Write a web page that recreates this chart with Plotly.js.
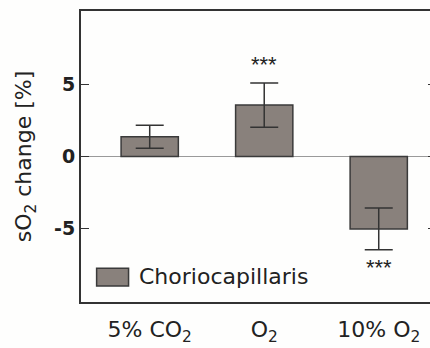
<!DOCTYPE html>
<html>
<head>
<meta charset="utf-8">
<script src="https://cdn.plot.ly/plotly-3.0.1.min.js"></script>
<style>
html, body { margin: 0; padding: 0; overflow: hidden; background: #fefefd; }
#chart { width: 440px; height: 348px; }
</style>
</head>
<body>
<div id="chart"></div>
<script>
const categories = ["5% CO<sub>2</sub>", "O<sub>2</sub>", "10% O<sub>2</sub>"];
const values = [1.37, 3.57, -5.03];
const errors = [0.80, 1.54, 1.45];
const significance = ["", "***", "***"];
const seriesName = "Choriocapillaris";
const yTickVals = [-5, 0, 5];
const yTickText = ["-5", "0", "5"];

const xIdx = categories.map((c, i) => i);

const trace = {
  type: "bar",
  x: xIdx,
  y: values,
  name: seriesName,
  width: 0.5,
  marker: { color: "#89817c", line: { color: "#3a3a3a", width: 1.5 } },
  error_y: { type: "data", array: errors, visible: true, color: "#333", thickness: 1.5, width: 14 },
  showlegend: false,
  hoverinfo: "skip"
};

const annotations = [];
significance.forEach((s, i) => {
  if (!s) return;
  const up = values[i] >= 0;
  annotations.push({
    x: xIdx[i], xref: "x",
    y: up ? values[i] + errors[i] + 1.3 : values[i] - errors[i] - 1.25, yref: "y",
    text: s, showarrow: false, yanchor: "middle",
    font: { family: "Liberation Sans", size: 22, color: "#222" }
  });
});
// legend label
annotations.push({
  x: 0.157, xref: "paper", y: 0.086, yref: "paper",
  xanchor: "left", yanchor: "middle", showarrow: false,
  text: seriesName,
  font: { family: "DejaVu Sans", size: 22, color: "#222" }
});

const layout = {
  width: 440, height: 348,
  margin: { l: 81, r: 4, t: 11, b: 46 },
  paper_bgcolor: "#fefefd",
  plot_bgcolor: "#fefefd",
  font: { family: "DejaVu Sans", color: "#222", size: 16 },
  xaxis: {
    range: [-0.6, 2.5],
    tickvals: xIdx, ticktext: categories,
    ticks: "", showgrid: false, zeroline: false,
    showline: true, mirror: true, linecolor: "#333", linewidth: 2,
    tickfont: { family: "DejaVu Sans", size: 22, color: "#222" },
    ticklabelstandoff: 7
  },
  yaxis: {
    range: [-10.1, 10.1],
    tickvals: yTickVals, ticktext: yTickText,
    ticks: "inside", ticklen: 8, tickwidth: 1.5, tickcolor: "#333",
    showgrid: false, zeroline: true, zerolinecolor: "#9a9a9a", zerolinewidth: 1.5,
    showline: true, mirror: "ticks", linecolor: "#333", linewidth: 2,
    tickfont: { family: "DejaVu Sans", size: 19, color: "#222", weight: "bold" },
    title: { text: "sO<sub>2</sub> change [%]", font: { family: "DejaVu Sans", size: 22, color: "#222" }, standoff: 16 }
  },
  shapes: [{
    type: "rect", xref: "paper", yref: "paper",
    x0: 0.044, x1: 0.134, y0: 0.055, y1: 0.116,
    fillcolor: "#89817c", line: { color: "#3a3a3a", width: 1.5 }
  }],
  annotations: annotations,
  showlegend: false
};

Plotly.newPlot("chart", [trace], layout, { displayModeBar: false, staticPlot: true });
</script>
</body>
</html>
